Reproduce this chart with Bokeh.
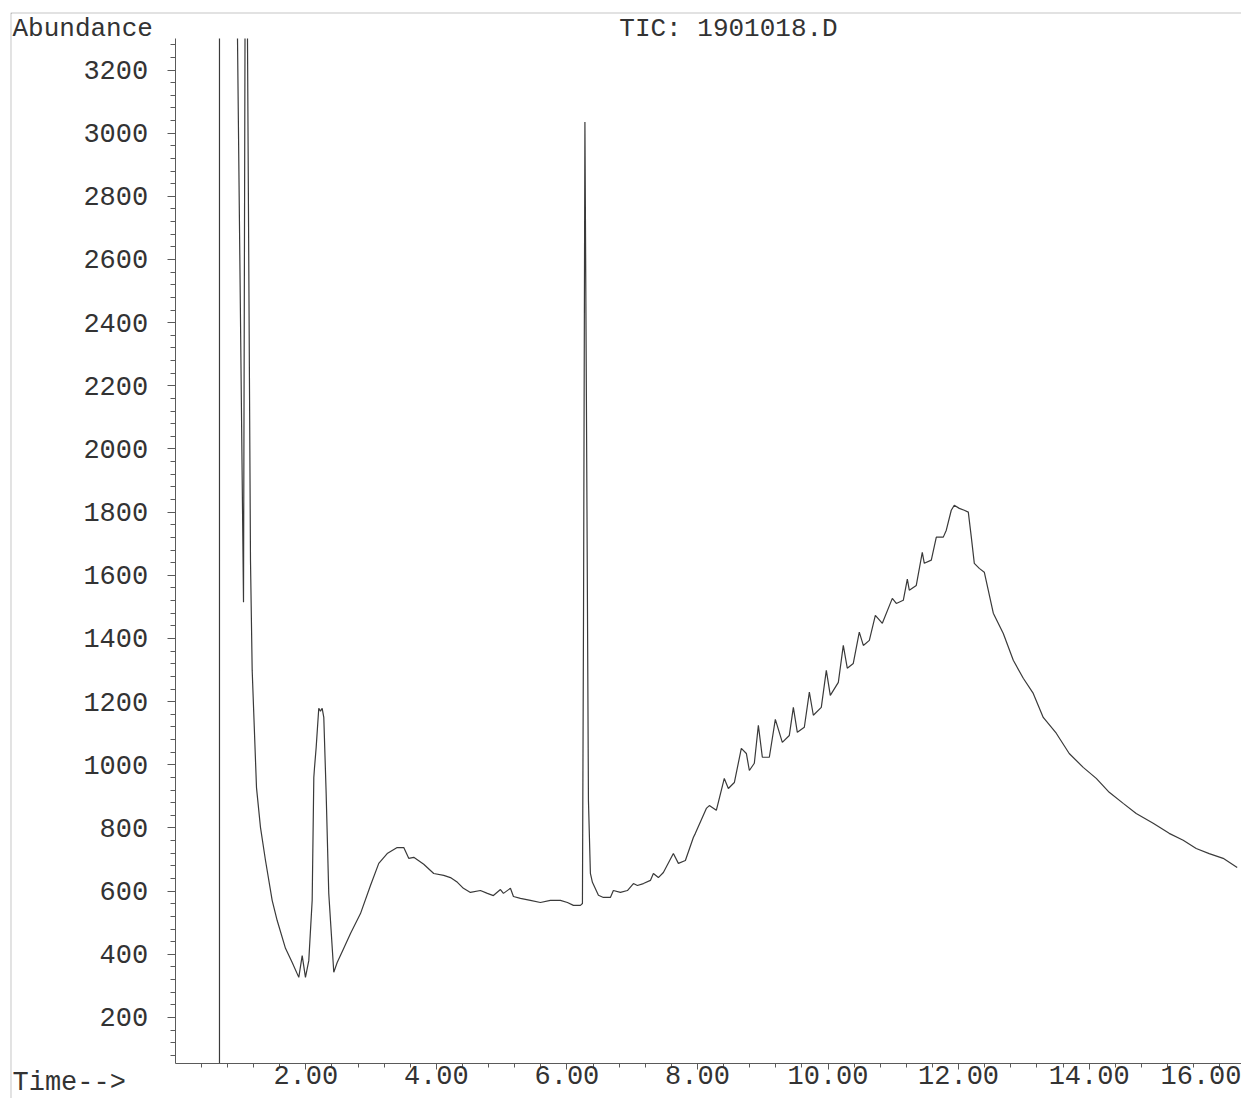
from bokeh.plotting import figure
from bokeh.layouts import column, row
from bokeh.models import FixedTicker, NumeralTickFormatter, Range1d, Spacer, Label
from bokeh.embed import file_html
from bokeh.resources import INLINE

NAN = float("nan")

# ---- data (time in minutes, abundance) ----
# off-scale stretches of the solvent front are drawn up to the top of the
# scale (3300) and broken with NaN, as on the instrument printout
time_min = [
    0.678, 0.678, 0.80, 0.954, 1.046, 1.069, 1.09, 1.107, 1.153, 1.179, 1.245, 1.306,
    1.383, 1.485, 1.562, 1.689, 1.792, 1.893, 1.945, 1.995, 2.046, 2.098,
    2.123, 2.133, 2.159, 2.199, 2.225, 2.251, 2.276, 2.312, 2.352, 2.429,
    2.481, 2.582, 2.685, 2.838, 2.991, 3.118, 3.247, 3.400, 3.501, 3.577,
    3.654, 3.807, 3.960, 4.113, 4.216, 4.323, 4.415, 4.522, 4.675, 4.782,
    4.874, 4.982, 5.028, 5.135, 5.181, 5.288, 5.441, 5.594, 5.747, 5.901,
    6.008, 6.100, 6.207, 6.238, 6.255, 6.276, 6.299, 6.330, 6.360, 6.391,
    6.483, 6.559, 6.666, 6.712, 6.820, 6.927, 7.019, 7.080, 7.172, 7.279,
    7.325, 7.401, 7.478, 7.631, 7.708, 7.815, 7.937, 7.968, 8.136, 8.182,
    8.289, 8.411, 8.473, 8.565, 8.672, 8.749, 8.795, 8.871, 8.933, 8.994,
    9.101, 9.193, 9.300, 9.407, 9.469, 9.530, 9.637, 9.714, 9.775, 9.897,
    9.974, 10.035, 10.158, 10.234, 10.295, 10.387, 10.479, 10.541, 10.633, 10.725,
    10.832, 10.985, 11.046, 11.153, 11.215, 11.245, 11.352, 11.444, 11.475, 11.582,
    11.659, 11.766, 11.812, 11.888, 11.934, 12.011, 12.087, 12.149, 12.195, 12.241,
    12.317, 12.394, 12.532, 12.685, 12.838, 12.991, 13.144, 13.297, 13.496, 13.695,
    13.909, 14.109, 14.308, 14.522, 14.721, 14.981, 15.226, 15.441, 15.640, 15.839,
    16.053, 16.268,
]
abundance = [
    54, 3300, NAN, 3300, 1515, 3300, NAN, 3300, 1648, 1299, 928, 802,
    697, 571, 507, 419, 374, 327, 396, 327, 380, 571,
    960, 989, 1055, 1179, 1170, 1179, 1150, 910, 593, 343,
    374, 419, 466, 529, 618, 688, 719, 738, 738, 704,
    707, 685, 656, 650, 643, 628, 609, 596, 602, 593,
    586, 605, 593, 609, 583, 577, 571, 564, 571, 571,
    564, 555, 555, 561, 1500, 3035, 2155, 887, 656, 628,
    587, 580, 580, 602, 596, 602, 624, 618, 624, 634,
    656, 643, 659, 719, 688, 697, 770, 783, 862, 871,
    856, 957, 925, 944, 1052, 1036, 982, 1005, 1125, 1024,
    1024, 1144, 1071, 1093, 1182, 1103, 1119, 1230, 1157, 1182,
    1299, 1220, 1261, 1378, 1306, 1321, 1420, 1378, 1394, 1473,
    1448, 1527, 1511, 1521, 1588, 1553, 1568, 1673, 1638, 1648,
    1721, 1721, 1743, 1806, 1822, 1812, 1806, 1800, 1721, 1638,
    1622, 1610, 1480, 1416, 1331, 1274, 1226, 1150, 1100, 1036,
    992, 957, 913, 878, 846, 815, 783, 761, 735, 719,
    704, 675,
]

x_major_ticks = [2, 4, 6, 8, 10, 12, 14, 16]
y_major_ticks = [200, 400, 600, 800, 1000, 1200, 1400, 1600, 1800, 2000,
                 2200, 2400, 2600, 2800, 3000, 3200]
title_text = "TIC: 1901018.D"
y_title_text = "Abundance"
x_title_text = "Time-->"

# plotted scale of the printout
time_axis = (0, 16.334)
abund_axis = (54.35, 3299.7)

x_minor_ticks = [round(0.4 * i, 2) for i in range(1, 41)]
y_minor_ticks = [40 * i for i in range(2, 83)]

FONT = "Liberation Mono"
TXT = "#333333"
AX = "#5a5a5a"
RULE = "#8c8c8c"

# frame of the figure covers the whole printout area below/right of the page rule;
# the axes sit at fixed locations inside it, as on the instrument printout
p = figure(width=1231, height=1086, output_backend="svg", toolbar_location=None,
           x_range=Range1d(-2.508, 16.334), y_range=Range1d(-56.5, 3378.9),
           min_border_left=1, min_border_top=1, min_border_right=0, min_border_bottom=0)
p.outline_line_color = None
p.grid.visible = False
p.background_fill_color = "white"
p.border_fill_color = RULE   # 1px top/left border = page rule

p.line(time_min, abundance, line_color="#3a3a3a", line_width=1.2)

xa = p.xaxis[0]
xa.fixed_location = abund_axis[0]
xa.bounds = time_axis
xa.ticker = FixedTicker(ticks=x_major_ticks, minor_ticks=x_minor_ticks)
xa.formatter = NumeralTickFormatter(format="0.00")
xa.major_tick_in = 0
xa.major_tick_out = 6
xa.minor_tick_in = 0
xa.minor_tick_out = 4
xa.major_label_standoff = -3
xa.major_label_text_font = FONT
xa.major_label_text_font_size = "27px"
xa.major_label_text_color = TXT
xa.axis_line_color = AX
xa.major_tick_line_color = AX
xa.minor_tick_line_color = AX

ya = p.yaxis[0]
ya.fixed_location = time_axis[0]
ya.bounds = abund_axis
ya.ticker = FixedTicker(ticks=y_major_ticks, minor_ticks=y_minor_ticks)
ya.formatter = NumeralTickFormatter(format="0")
ya.major_tick_in = 0
ya.major_tick_out = 8
ya.minor_tick_in = 0
ya.minor_tick_out = 5
ya.major_label_standoff = 19
ya.major_label_text_font = FONT
ya.major_label_text_font_size = "27px"
ya.major_label_text_color = TXT
ya.axis_line_color = AX
ya.major_tick_line_color = AX
ya.minor_tick_line_color = AX

FR_L, FR_B = 11, 1098   # frame left / bottom in page pixels


def page_label(text, x, y, align, size):
    return Label(x=x - FR_L, y=FR_B - y, x_units="screen", y_units="screen",
                 text=text, text_font=FONT, text_font_size=size, text_color=TXT,
                 text_align=align, text_baseline="middle")


p.add_layout(page_label(y_title_text, 12, 28.5, "left", "26px"))
p.add_layout(page_label(title_text, 728, 28.5, "center", "26px"))
p.add_layout(page_label(x_title_text, 12, 1082, "left", "27px"))

page = column(
    Spacer(width=1241, height=12),
    row(Spacer(width=10, height=1086), p),
)

open("out.html", "w").write(file_html(page, INLINE))
